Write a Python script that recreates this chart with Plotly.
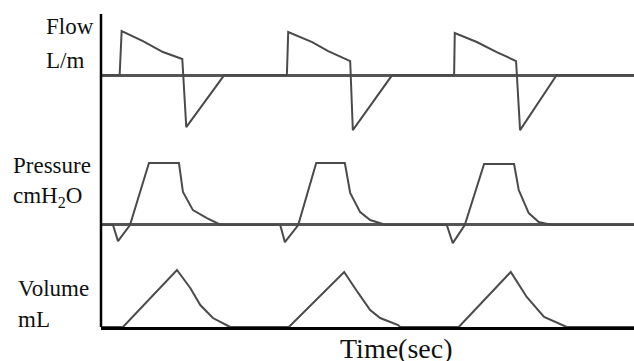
import plotly.graph_objects as go

# waveform data (time in sec, three breaths)
flow_t = [0, 0.28, 0.31, 0.63, 0.93, 1.22, 1.28, 1.85,
          2.79, 2.81, 3.17, 3.41, 3.74, 3.78, 4.37,
          5.30, 5.31, 5.64, 5.94, 6.23, 6.29, 6.84, 8.0]
flow_v = [0, 0, 44, 34, 23, 16, -52, 0,
          0, 43, 33, 24, 14, -55, 0,
          0, 42, 33, 23, 14, -55, 0, 0]

press_t = [0, 0.18, 0.255, 0.435, 0.72, 1.17, 1.23, 1.38, 1.59, 1.76, 1.80,
           2.69, 2.76, 2.96, 3.23, 3.66, 3.74, 3.89, 4.04, 4.23, 4.27,
           5.19, 5.28, 5.46, 5.75, 6.20, 6.27, 6.42, 6.57, 6.77, 8.0]
press_v = [0, 0, -6.5, 0, 25, 25, 13.3, 6.0, 2.8, 0.4, 0,
           0, -6.9, 0, 25, 25, 12.9, 5.2, 2.0, 0.4, 0,
           0, -7.3, 0, 24.6, 24.6, 14.1, 4.8, 1.2, 0, 0]

vol_t = [0, 0.33, 1.14, 1.34, 1.49, 1.68, 1.91, 1.94,
         2.82, 3.65, 3.86, 4.04, 4.19, 4.46, 4.49,
         5.37, 6.15, 6.39, 6.65, 6.87, 6.99, 8.0]
vol_v = [0, 0, 509, 348, 196, 80, 9, 0,
         0, 491, 304, 152, 80, 18, 0,
         0, 491, 268, 89, 27, 0, 0]

line_col = "#4a4a4a"
font_name = "Liberation Serif, Times New Roman, DejaVu Serif, serif"

fig = go.Figure()
fig.add_trace(go.Scatter(x=flow_t, y=flow_v, mode="lines", yaxis="y",
                         line=dict(color=line_col, width=2)))
fig.add_trace(go.Scatter(x=press_t, y=press_v, mode="lines", yaxis="y2",
                         line=dict(color=line_col, width=2)))
fig.add_trace(go.Scatter(x=vol_t, y=vol_v, mode="lines", yaxis="y3",
                         line=dict(color=line_col, width=2)))

hidden = dict(showgrid=False, showticklabels=False, ticks="", showline=False)

fig.update_layout(
    width=634, height=361,
    margin=dict(l=101, r=0, t=14, b=34),
    paper_bgcolor="white", plot_bgcolor="white",
    showlegend=False,
    xaxis=dict(range=[0, 8], anchor="y3", showgrid=False, zeroline=False,
               showticklabels=False, ticks="", showline=True,
               linecolor="black", linewidth=2.5),
    yaxis=dict(domain=[0.597, 1], range=[-65, 61], zeroline=True,
               zerolinecolor="#555555", zerolinewidth=2.5, **hidden),
    yaxis2=dict(domain=[0.262, 0.5655], range=[-8.06, 30.24], zeroline=True,
                zerolinecolor="#555555", zerolinewidth=2.5, **hidden),
    yaxis3=dict(domain=[0, 0.246], range=[0, 687], zeroline=False, **hidden),
)

# left axis line spanning all three panels
fig.add_shape(type="line", xref="paper", yref="paper", x0=0, x1=0, y0=0, y1=1,
              line=dict(color="black", width=2.5))

labels = [
    ("Flow", -0.107, 0.961),
    ("L/m", -0.107, 0.852),
    ("Pressure", -0.169, 0.517),
    ("cmH<sub>2</sub>O", -0.169, 0.415),
    ("Volume", -0.159, 0.124),
    ("mL", -0.159, 0.025),
]
for txt, x, y in labels:
    fig.add_annotation(text=txt, x=x, y=y, xref="paper", yref="paper",
                       xanchor="left", yanchor="middle", showarrow=False,
                       font=dict(family=font_name, size=23, color="#111"))

fig.add_annotation(text="Time(sec)", x=0.555, y=-0.0687, xref="paper", yref="paper",
                   xanchor="center", yanchor="middle", showarrow=False,
                   font=dict(family=font_name, size=28, color="#111"))

# drop the page's default body margin so the figure sits at the window corner
fig.write_html("out.html", config={"displayModeBar": False},
               post_script="document.body.style.margin='0';")
